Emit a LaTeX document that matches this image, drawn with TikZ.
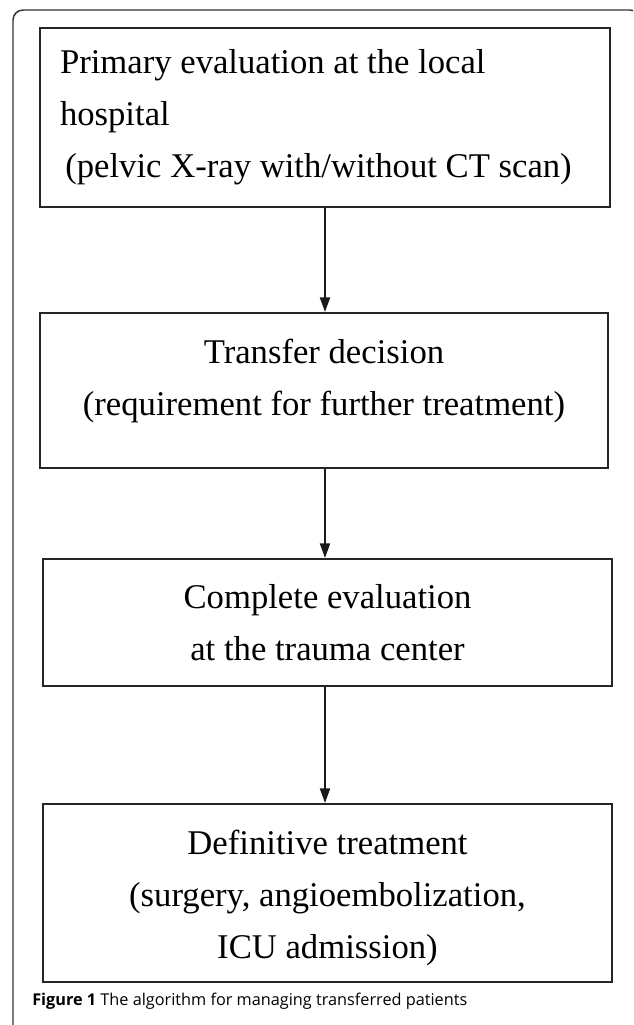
\documentclass[tikz,border=0pt]{standalone}
\usepackage{fontspec}
\setmainfont{Liberation Serif}
\newfontfamily\capfont{Open Sans}
\usetikzlibrary{arrows.meta}
\begin{document}
\begin{tikzpicture}[x=0.75pt,y=-0.75pt,
  box/.style={draw=black!85, line width=1.5pt, rectangle, inner sep=0pt,
    font=\fontsize{26}{39}\selectfont},
  arr/.style={draw=black!90, line width=1.5pt, -{Triangle[length=11pt,width=7.5pt]}},
  frame/.style={draw=black!80, line width=1.1pt, rounded corners=7.5pt}]
\useasboundingbox (0,0) rectangle (633,1025);
\begin{scope}
  \clip (0,0) rectangle (633,1025);
  \draw[frame] (13,1030) -- (13,10) -- (640,10) -- (640,40);
\end{scope}
\node[box, minimum width=427.5pt, minimum height=134.25pt, text width=397.5pt, align=flush left]
  (b1) at (325,117.5) {Primary evaluation at the local\\hospital\\\hspace*{4pt}(pelvic X-ray with/without CT scan)};
\node[box, minimum width=426pt, minimum height=116.25pt, align=center, text depth=20pt]
  (b2) at (324,390.5) {Transfer decision\\(requirement for further treatment)};
\node[box, minimum width=426.75pt, minimum height=95.25pt, align=center]
  (b3) at (327.5,622.5) {Complete evaluation\\at the trauma center};
\node[box, minimum width=426.75pt, minimum height=133.5pt, align=center]
  (b4) at (327.5,893) {\rule{0pt}{26pt}Definitive treatment\\(surgery, angioembolization,\\ICU admission)};
\draw[arr] (b1.south) -- (b1.south |- b2.north);
\draw[arr] (b1.south |- b2.south) -- (b1.south |- b3.north);
\draw[arr] (b1.south |- b3.south) -- (b1.south |- b4.north);
\node[anchor=base west, inner sep=0pt, font=\capfont\fontsize{12.2}{15}\selectfont]
  (cap) at (32,1005) {\textbf{Figure 1} The algorithm for managing transferred patients};
\end{tikzpicture}
\end{document}
